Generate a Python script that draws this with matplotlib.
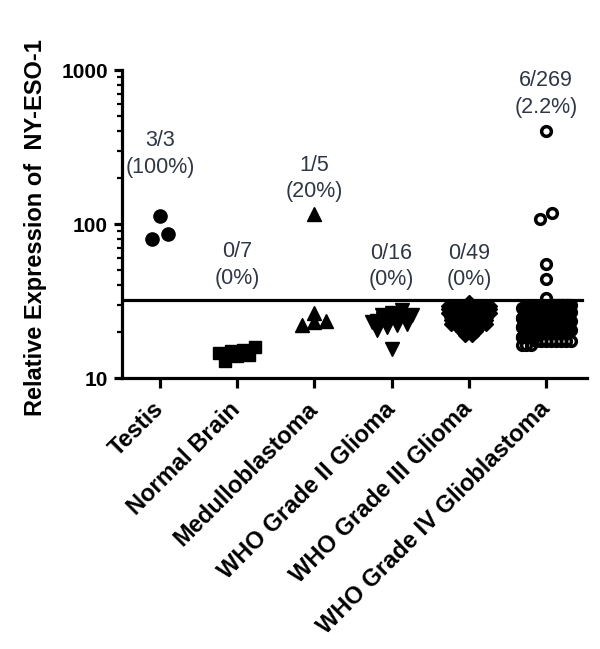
import numpy as np
import matplotlib
matplotlib.use('Agg')
import matplotlib.pyplot as plt
from matplotlib.ticker import LogLocator, NullFormatter, FixedLocator
from matplotlib.transforms import ScaledTranslation

plt.rcParams['font.family'] = ['Liberation Sans', 'DejaVu Sans']

categories = ['Testis', 'Normal Brain', 'Medulloblastoma', 'WHO Grade II Glioma',
              'WHO Grade III Glioma', 'WHO Grade IV Glioblastoma']

# values (relative expression)
testis = [112, 80, 86]
normal_brain = [16.0, 15.3, 15.0, 14.6, 14.2, 13.8, 12.8]
medullo = [116, 26.5, 23.5, 23.0, 22.2]
grade2 = [15.5, 20.5, 21.5, 22.0, 22.5, 23.0, 23.5, 24.0, 24.3, 24.6,
          24.9, 25.2, 25.5, 25.8, 26.5, 27.5]
grade3_levels = [31, 29.5, 28, 26.5, 25, 23.8, 22.5, 21.3, 20.2, 19]
grade3_counts = [1, 7, 7, 7, 6, 6, 6, 4, 3, 2]
gbm_high = [402, 118, 107, 55, 44, 33]
gbm_levels = [30, 28.5, 27, 25.5, 24.5, 23.5, 22.5, 21.5, 20.5, 19.5, 18.5, 17.5, 16.3]
gbm_counts = [18, 22, 24, 26, 26, 28, 26, 24, 22, 20, 16, 8, 3]

labels_top = ['3/3\n(100%)', '0/7\n(0%)', '1/5\n(20%)', '0/16\n(0%)', '0/49\n(0%)', '6/269\n(2.2%)']
label_y = [285, 54, 198, 53, 53, 700]
cutoff = 32

PX_PER_UNIT = 77.2
PX_PER_DECADE = 154.0


def swarm(values, row_px, step_px, max_px):
    # graphpad-like scatter: group close values into rows, spread each row sideways
    values = np.asarray(values, dtype=float)
    pos = np.log10(values) * PX_PER_DECADE
    order = np.argsort(pos, kind='stable')
    rows = []
    row = [order[0]]
    start = pos[order[0]]
    for i in order[1:]:
        if pos[i] - start < row_px:
            row.append(i)
        else:
            rows.append(row)
            row = [i]
            start = pos[i]
    rows.append(row)
    off = np.zeros(len(values))
    for r in rows:
        n = len(r)
        step = step_px if n == 1 else min(step_px, max_px / (n - 1))
        for k, idx in enumerate(r):
            off[idx] = (k - (n - 1) / 2) * step
    return off / PX_PER_UNIT


def main():
    grade3 = np.repeat(grade3_levels, grade3_counts)
    gbm = np.concatenate([gbm_high, np.repeat(gbm_levels, gbm_counts)])

    groups = [testis, normal_brain, medullo, grade2, grade3, gbm]
    layout = [(7, 16, 30), (7, 12, 40), (7, 12, 30), (7, 10, 40), (3, 7, 44), (7, 12, 49)]
    styles = [
        dict(marker='o', ms=9.5, mfc='black', mec='black'),
        dict(marker='s', ms=8.5, mfc='black', mec='black'),
        dict(marker='^', ms=10, mfc='black', mec='black'),
        dict(marker='v', ms=10, mfc='black', mec='black'),
        dict(marker='D', ms=7, mfc='black', mec='black'),
        dict(marker='o', ms=7, mfc='none', mec='black', mew=2.5),
    ]

    fig = plt.figure(figsize=(6, 6.49), dpi=100)
    ax = fig.add_axes([122 / 600, 271 / 649, 465 / 600, 308 / 649])

    for i, (vals, lay, st) in enumerate(zip(groups, layout, styles)):
        x = i + swarm(vals, *lay)
        ax.plot(x, vals, linestyle='none', **st)

    ax.axhline(cutoff, xmin=0, xmax=0.99, color='black', lw=2.3)

    for i, (t, y) in enumerate(zip(labels_top, label_y)):
        ax.text(i, y, t, ha='center', va='center', fontsize=15.5, color='#2f3645',
                linespacing=1.35)

    ax.set_yscale('log')
    ax.set_ylim(10, 1000)
    ax.set_xlim(-0.49, 5.53)
    ax.yaxis.set_major_locator(FixedLocator([10, 100, 1000]))
    ax.yaxis.set_minor_locator(LogLocator(base=10, subs=np.arange(2, 10)))
    ax.yaxis.set_minor_formatter(NullFormatter())
    ax.set_yticklabels(['10', '100', '1000'], fontsize=15, fontweight='bold')

    ax.set_xticks(range(len(categories)))
    ax.set_xticklabels(categories, rotation=45, ha='right', va='center',
                       rotation_mode='anchor', fontsize=17, fontweight='bold')
    shift = ScaledTranslation(4 / 72, 0, fig.dpi_scale_trans)
    for lab in ax.get_xticklabels():
        lab.set_transform(lab.get_transform() + shift)

    for s in ['top', 'right']:
        ax.spines[s].set_visible(False)
    for s in ['left', 'bottom']:
        ax.spines[s].set_linewidth(2.3)
    ax.tick_params(axis='y', which='major', length=6, width=2.3, pad=4)
    ax.tick_params(axis='y', which='minor', length=3.5, width=1.6)
    ax.tick_params(axis='x', which='major', length=7, width=2.3, pad=13)

    ax.set_ylabel('Relative Expression of  NY-ESO-1', fontsize=17, fontweight='bold')
    ax.yaxis.set_label_coords(-0.161, 0.487)

    fig.savefig('out.png', dpi=100)


if __name__ == '__main__':
    main()
